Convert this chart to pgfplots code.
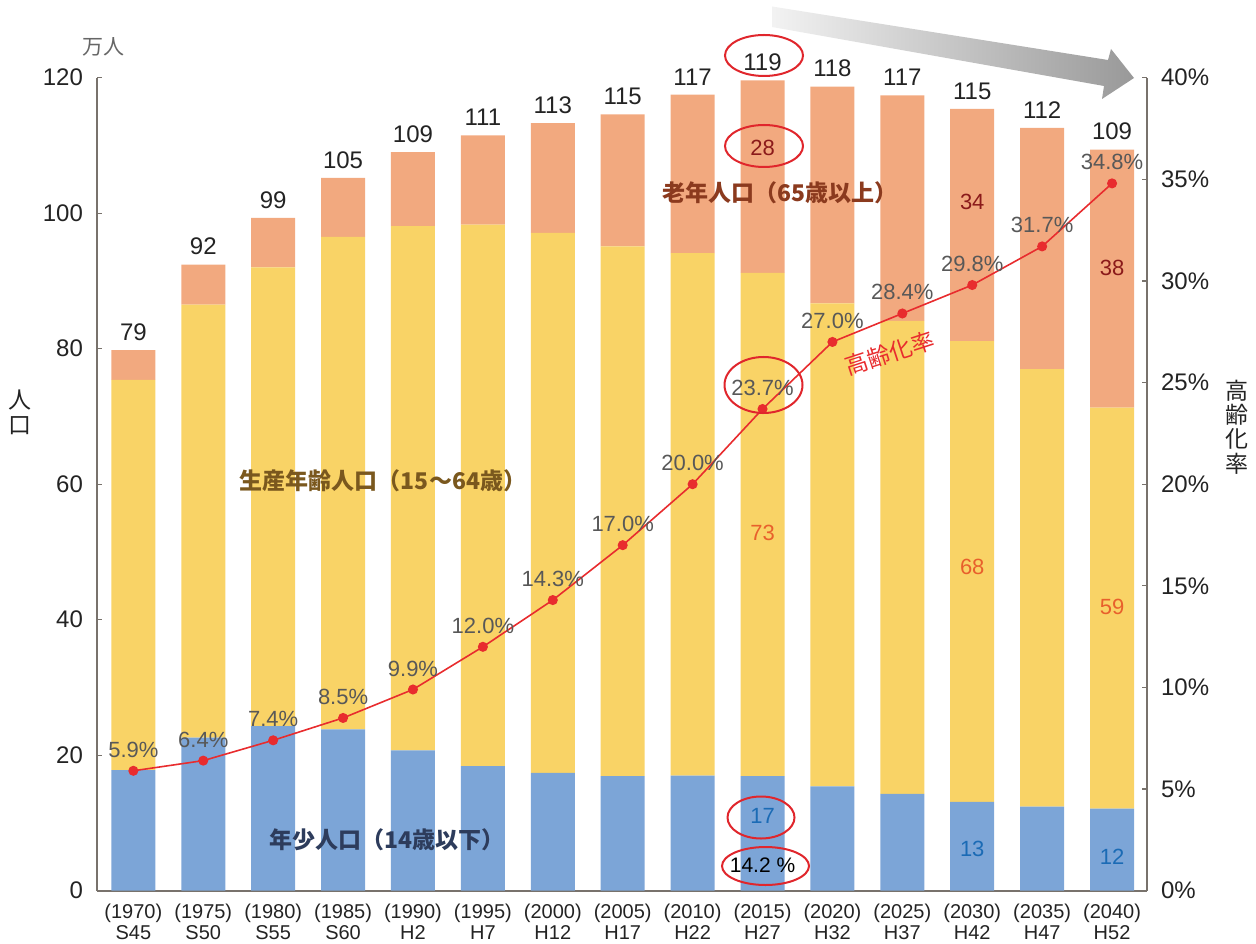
\documentclass[border=0pt]{standalone}
\usepackage{fontspec}
\setmainfont{Liberation Sans}
\newfontfamily\jp{Noto Sans CJK JP}
\usepackage{pgfplots}
\usepackage{pgfplotstable}
\pgfplotsset{compat=1.18}

\definecolor{youth}{RGB}{124,165,215}
\definecolor{workc}{RGB}{249,211,102}
\definecolor{oldc}{RGB}{242,169,127}
\definecolor{linered}{RGB}{232,44,46}
\definecolor{ringred}{RGB}{224,38,44}
\definecolor{axisgray}{RGB}{120,114,108}
\definecolor{textdark}{RGB}{35,35,35}
\definecolor{pctgray}{RGB}{88,88,88}
\definecolor{navytxt}{RGB}{45,60,92}
\definecolor{browntxt}{RGB}{122,88,30}
\definecolor{oldtxt}{RGB}{139,58,30}
\definecolor{darkredtxt}{RGB}{139,26,26}
\definecolor{orangetxt}{RGB}{232,96,44}
\definecolor{bluetxt}{RGB}{27,107,181}

% population in 10k persons: youth / working age / elderly, total as printed
\pgfplotstableread{
x blue work old total
0  17.8 57.6  4.4  79
1  22.6 63.9  5.9  92
2  24.3 67.7  7.3  99
3  23.8 72.7  8.7 105
4  20.7 77.4 10.9 109
5  18.4 79.9 13.2 111
6  17.4 79.7 16.2 113
7  16.9 78.2 19.5 115
8  17.0 77.1 23.4 117
9  16.9 74.3 28.4 119
10 15.4 71.3 32.0 118
11 14.3 69.8 33.3 117
12 13.1 68.0 34.3 115
13 12.4 64.6 35.6 112
14 12.1 59.2 38.1 109
}\popdata

% ageing rate in percent
\pgfplotstableread{
x rate
0  5.9
1  6.4
2  7.4
3  8.5
4  9.9
5  12.0
6  14.3
7  17.0
8  20.0
9  23.7
10 27.0
11 28.4
12 29.8
13 31.7
14 34.8
}\ratedata

\pgfplotsset{
  base/.style={scale only axis, width=525pt, height=406.5pt,
    xmin=-0.52, xmax=14.5, clip=false,
    /pgf/number format/assume math mode=true},
}
\tikzset{inbar/.style={font=\fontsize{11}{11}\selectfont}}

\begin{document}
\begin{tikzpicture}
\path[use as bounding box] (-48.5pt,-26.15pt) rectangle (579.5pt,445.35pt);

% stacked population bars
\begin{axis}[base,
    ymin=0, ymax=120,
    ybar stacked, bar width=22pt,
    axis y line*=left, axis x line*=bottom,
    axis line style={-, draw=axisgray, line width=0.8pt},
    xtick={0,...,14},
    xticklabels={{(1970)\\S45},{(1975)\\S50},{(1980)\\S55},{(1985)\\S60},{(1990)\\H2},{(1995)\\H7},{(2000)\\H12},{(2005)\\H17},{(2010)\\H22},{(2015)\\H27},{(2020)\\H32},{(2025)\\H37},{(2030)\\H42},{(2035)\\H47},{(2040)\\H52}},
    x tick style={draw=none},
    xticklabel style={font=\fontsize{10}{10.5}\selectfont, text=textdark, align=center, yshift=-3pt},
    ytick={0,20,...,120},
    tick align=inside, major tick length=2.5pt,
    y tick style={draw=axisgray, line width=0.6pt},
    yticklabel style={font=\fontsize{12}{12}\selectfont, text=textdark, xshift=-3.5pt},
]
\addplot[fill=youth, draw=none] table[x=x, y=blue] {\popdata};
\addplot[fill=workc, draw=none] table[x=x, y=work] {\popdata};
\addplot[fill=oldc, draw=none] table[x=x, y=old] {\popdata};
\end{axis}

% totals above the bars and values inside some bars
\begin{axis}[base, ymin=0, ymax=120, hide axis]
\addplot[draw=none, mark=none,
    point meta=explicit,
    nodes near coords,
    every node near coord/.append style={font=\fontsize{12}{12}\selectfont, text=textdark, anchor=south, yshift=1.2pt}]
    table[x=x, y expr=\thisrow{blue}+\thisrow{work}+\thisrow{old}, meta=total] {\popdata};
\node[inbar, text=darkredtxt] at (axis cs:9,109.6) {28};
\node[inbar, text=orangetxt] at (axis cs:9,52.8) {73};
\node[inbar, text=bluetxt] at (axis cs:9,11.1) {17};
\node[inbar, text=darkredtxt] at (axis cs:12,101.7) {34};
\node[inbar, text=orangetxt] at (axis cs:12,47.8) {68};
\node[inbar, text=bluetxt] at (axis cs:12,6.2) {13};
\node[inbar, text=darkredtxt] at (axis cs:14,91.9) {38};
\node[inbar, text=orangetxt] at (axis cs:14,41.9) {59};
\node[inbar, text=bluetxt] at (axis cs:14,5.0) {12};
\node[font=\fontsize{10.5}{10.5}\selectfont, text=black] at (axis cs:9,3.7) {14.2 \%};
\end{axis}

% ageing rate on the right axis
\begin{axis}[base,
    ymin=0, ymax=40,
    axis y line*=right, axis x line=none,
    axis line style={-, draw=axisgray, line width=0.8pt},
    ytick={0,5,...,40},
    yticklabels={0\%,5\%,10\%,15\%,20\%,25\%,30\%,35\%,40\%},
    tick align=inside, major tick length=2.5pt,
    y tick style={draw=axisgray, line width=0.6pt},
    yticklabel style={font=\fontsize{12}{12}\selectfont, text=textdark, xshift=3.5pt},
]
\addplot[color=linered, line width=0.8pt, mark=*, mark size=2.1pt,
    mark options={fill=linered, draw=linered},
    point meta=explicit,
    nodes near coords={\pgfmathprintnumber[fixed,fixed zerofill,precision=1]{\pgfplotspointmeta}\%},
    every node near coord/.append style={font=\fontsize{11}{11}\selectfont, text=pctgray, anchor=south, yshift=2.9pt}]
    table[x=x, y=rate, meta=rate] {\ratedata};
\end{axis}

% annotations, in pixel units of the original picture (origin top left)
\begin{scope}[shift={(-48.5pt,445.35pt)}, x=0.5pt, y=-0.5pt]
\shade[left color=black!5, right color=black!40]
  (772,6.5) -- (1108,60) -- (1111,49) -- (1134,78) -- (1102,99) -- (1104,86) -- (772,27) -- cycle;

\node[font=\jp\fontsize{10.5}{10.5}\selectfont, text=black!60] at (103,47) {万人};
\node[font=\jp\fontsize{11.5}{12.5}\selectfont, text=textdark, align=center] at (20,412) {人\\口};
\node[font=\jp\fontsize{11.5}{12.2}\selectfont, text=textdark, align=center] at (1237,427) {高\\齢\\化\\率};

\node[font=\jp\bfseries\fontsize{11.5}{11.5}\selectfont, text=browntxt] at (383,481) {生産年齢人口（15～64歳）};
\node[font=\jp\bfseries\fontsize{11.5}{11.5}\selectfont, text=navytxt] at (387,840) {年少人口（14歳以下）};
\node[font=\jp\bfseries\fontsize{11.5}{11.5}\selectfont, text=oldtxt] at (780,193) {老年人口（65歳以上）};
\node[font=\jp\fontsize{11.5}{11.5}\selectfont, text=linered, rotate=18] at (890,353) {高齢化率};

\draw[ringred, line width=1pt] (764,55.5) ellipse [x radius=39, y radius=20.5];
\draw[ringred, line width=1pt] (764,146) ellipse [x radius=39, y radius=21];
\draw[ringred, line width=1pt] (763.5,385) ellipse [x radius=39, y radius=28];
\draw[ringred, line width=1pt] (761,817.5) ellipse [x radius=33.5, y radius=21];
\draw[ringred, line width=1pt] (765.5,866) ellipse [x radius=43.5, y radius=19];
\end{scope}
\end{tikzpicture}
\end{document}
